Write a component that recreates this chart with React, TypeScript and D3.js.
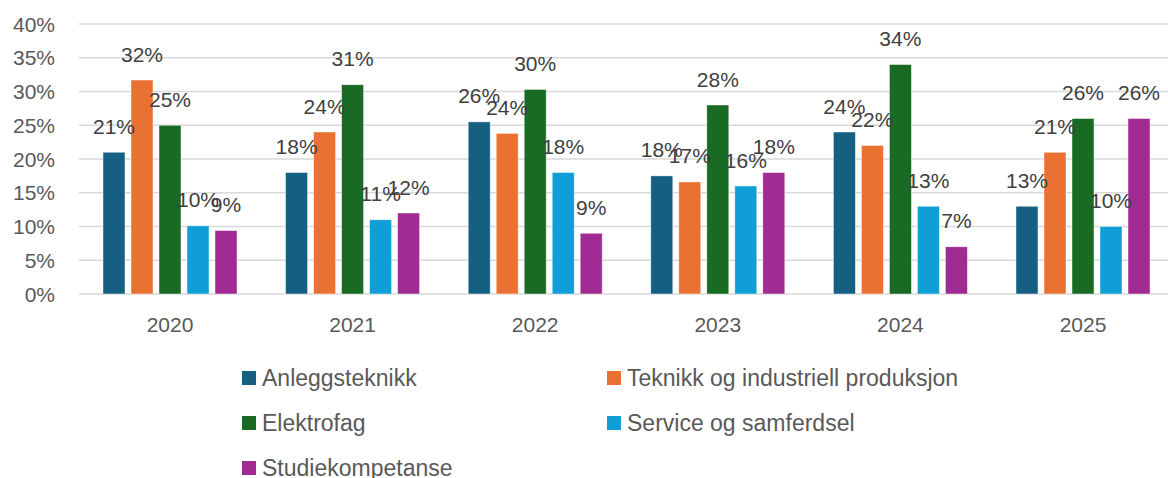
import React from "react";
import * as d3 from "d3";

const years = ["2020", "2021", "2022", "2023", "2024", "2025"];
const seriesNames = [
  "Anleggsteknikk",
  "Teknikk og industriell produksjon",
  "Elektrofag",
  "Service og samferdsel",
  "Studiekompetanse",
];
const anlegg = [21, 18, 25.5, 17.5, 24, 13];
const teknikk = [31.7, 24, 23.8, 16.6, 22, 21];
const elektro = [25, 31, 30.3, 28, 34, 26];
const service = [10.1, 11, 18, 16, 13, 10];
const studie = [9.4, 12, 9, 18, 7, 26];
const colors = ["#156082", "#E97132", "#196B24", "#0F9ED5", "#A02B93"];
const yTicks = [0, 5, 10, 15, 20, 25, 30, 35, 40];

const W = 1168;
const H = 478;

export default function App() {
  const values = [anlegg, teknikk, elektro, service, studie];
  const y = d3.scaleLinear().domain([0, 40]).range([294, 24]);
  const x0 = d3
    .scaleBand<string>()
    .domain(years)
    .range([78.7, 1174.3])
    .paddingInner(0.266)
    .paddingOuter(0.133);
  const x1 = d3
    .scaleBand<number>()
    .domain(d3.range(seriesNames.length))
    .range([0, x0.bandwidth()])
    .paddingInner(0.214)
    .paddingOuter(0);

  const font = "'Liberation Sans', Arial, sans-serif";
  const legendPos = [
    { x: 242, y: 371 },
    { x: 607, y: 371 },
    { x: 242, y: 416 },
    { x: 607, y: 416 },
    { x: 242, y: 461 },
  ];

  return (
    <svg
      width={W}
      height={H}
      style={{ position: "absolute", left: 0, top: 0, background: "#fff" }}
    >
      {yTicks.map((t) => (
        <g key={t}>
          <line x1={79} x2={1168} y1={y(t)} y2={y(t)} stroke="#d9d9d9" strokeWidth={1.5} />
          <text
            x={55}
            y={y(t)}
            dy="0.36em"
            textAnchor="end"
            fontFamily={font}
            fontSize={21}
            fill="#595959"
          >
            {t}%
          </text>
        </g>
      ))}
      {years.map((yr, gi) => (
        <g key={yr} transform={`translate(${x0(yr)},0)`}>
          {values.map((arr, si) => (
            <rect
              key={si}
              x={x1(si)}
              y={y(arr[gi])}
              width={x1.bandwidth()}
              height={y(0) - y(arr[gi])}
              fill={colors[si]}
              stroke="rgba(255,255,255,0.6)"
              strokeWidth={0.75}
            />
          ))}
          {values.map((arr, si) => (
            <text
              key={"l" + si}
              x={(x1(si) as number) + x1.bandwidth() / 2}
              y={y(arr[gi]) - 18.5}
              textAnchor="middle"
              fontFamily={font}
              fontSize={21}
              fill="#404040"
            >
              {Math.round(arr[gi])}%
            </text>
          ))}
          <text
            x={x0.bandwidth() / 2}
            y={332}
            textAnchor="middle"
            fontFamily={font}
            fontSize={21}
            fill="#595959"
          >
            {yr}
          </text>
        </g>
      ))}
      {seriesNames.map((s, i) => (
        <g key={s}>
          <rect x={legendPos[i].x} y={legendPos[i].y} width={14} height={14} fill={colors[i]} />
          <text
            x={legendPos[i].x + 20}
            y={legendPos[i].y + 14.5}
            fontFamily={font}
            fontSize={23}
            fill="#595959"
          >
            {s}
          </text>
        </g>
      ))}
    </svg>
  );
}
